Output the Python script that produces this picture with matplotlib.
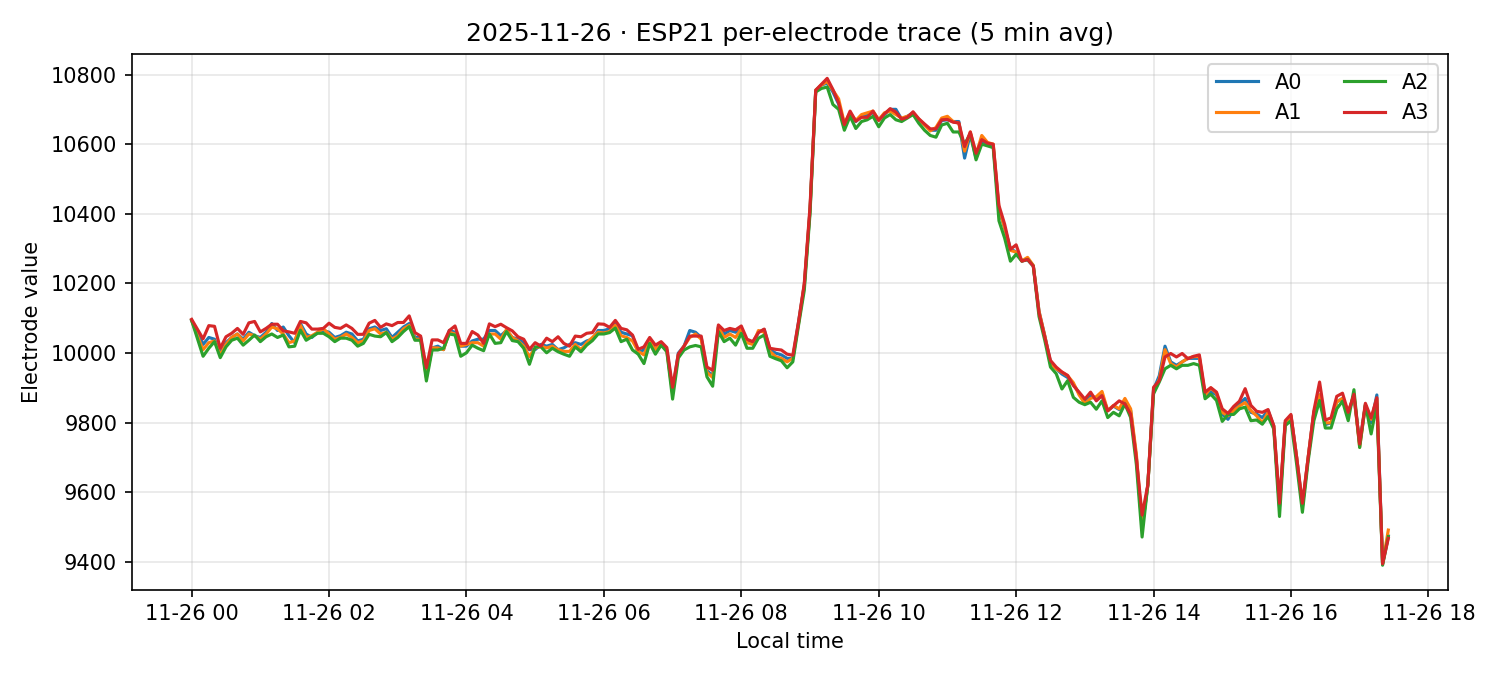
import numpy as np
import pandas as pd
import matplotlib
matplotlib.use("Agg")
import matplotlib.pyplot as plt

# 5 min averages, 00:00 -> 17:25
times = pd.date_range("2025-11-26 00:00", periods=210, freq="5min")

a0 = [
    10094, 10060, 10025, 10045, 10040, 10000, 10030, 10045, 10055, 10040,
    10060, 10050, 10045, 10060, 10085, 10065, 10075, 10050, 10030, 10085,
    10055, 10045, 10060, 10065, 10060, 10045, 10050, 10060, 10055, 10035,
    10040, 10070, 10075, 10065, 10070, 10045,
    10060, 10075, 10085, 10045, 10045, 9935, 10015, 10020, 10010, 10065,
    10060, 10020, 10020, 10035, 10040, 10040, 10065, 10065, 10050, 10065,
    10045, 10040, 10030, 10010, 10010, 10025, 10020, 10025, 10010, 10015,
    10025, 10030, 10025, 10035, 10040, 10065,
    10065, 10070, 10085, 10060, 10055, 10050, 10000, 10010, 10035, 10010,
    10030, 10010, 9890, 10000, 10020, 10065, 10060, 10045, 9950, 9935,
    10075, 10055, 10065, 10060, 10070, 10035, 10030, 10060, 10068, 10010,
    10000, 9995, 9985, 9985, 10090,
    10195, 10410, 10755, 10770, 10775, 10750, 10715, 10655, 10690, 10665,
    10680, 10685, 10690, 10670, 10685, 10700, 10700, 10672, 10680, 10690,
    10670, 10655, 10640, 10640, 10668, 10670, 10665, 10665, 10560, 10630,
    10560, 10610, 10600, 10595, 10410, 10360,
    10300, 10290, 10265, 10268, 10250, 10120, 10050, 9975, 9955, 9940,
    9930, 9910, 9885, 9860, 9880, 9868, 9880, 9835, 9848, 9838,
    9860, 9835, 9700, 9500, 9620, 9895, 9935, 10020, 9975, 9965,
    9975, 9985, 9985, 9985,
    9875, 9890, 9880, 9825, 9810, 9840, 9855, 9870, 9830, 9825,
    9815, 9835, 9790, 9560, 9800, 9820, 9700, 9560, 9700, 9830,
    9880, 9795, 9800, 9860, 9870, 9830, 9875, 9740, 9850, 9800,
    9880, 9395, 9475,
]

a1 = [
    10094, 10050, 10010, 10030, 10035, 9995, 10025, 10045, 10055, 10035,
    10055, 10050, 10040, 10055, 10075, 10070, 10055, 10030, 10035, 10080,
    10045, 10050, 10060, 10070, 10055, 10040, 10045, 10055, 10045, 10030,
    10035, 10065, 10070, 10055, 10060, 10040,
    10050, 10070, 10080, 10040, 10040, 9930, 10015, 10015, 10010, 10060,
    10055, 10020, 10025, 10030, 10030, 10020, 10055, 10055, 10040, 10068,
    10045, 10035, 10020, 9990, 10015, 10020, 10015, 10020, 10010, 10005,
    10005, 10025, 10010, 10030, 10045, 10060,
    10058, 10062, 10080, 10050, 10045, 10035, 10005, 9995, 10035, 10010,
    10030, 10005, 9885, 9995, 10020, 10045, 10055, 10040, 9945, 9930,
    10075, 10045, 10055, 10045, 10070, 10030, 10025, 10065, 10060, 10005,
    9990, 9985, 9975, 9985, 10085,
    10195, 10410, 10755, 10770, 10780, 10755, 10730, 10660, 10690, 10668,
    10685, 10690, 10695, 10670, 10690, 10695, 10685, 10675, 10680, 10688,
    10672, 10655, 10638, 10648, 10675, 10680, 10665, 10660, 10580, 10635,
    10570, 10625, 10605, 10600, 10415, 10360,
    10295, 10290, 10265, 10275, 10252, 10120, 10050, 9970, 9955, 9945,
    9935, 9915, 9880, 9855, 9870, 9875, 9890, 9835, 9850, 9840,
    9870, 9840, 9710, 9500, 9620, 9890, 9925, 10010, 9970, 9960,
    9975, 9985, 9990, 9990,
    9880, 9900, 9885, 9830, 9820, 9835, 9848, 9858, 9835, 9820,
    9800, 9830, 9790, 9560, 9800, 9820, 9700, 9560, 9700, 9830,
    9880, 9800, 9800, 9860, 9870, 9830, 9880, 9730, 9850, 9810,
    9870, 9395, 9492,
]

a2 = [
    10094, 10043, 9991, 10014, 10033, 9987, 10018, 10037, 10043, 10023,
    10037, 10052, 10033, 10047, 10055, 10045, 10052, 10018, 10020, 10066,
    10037, 10047, 10057, 10057, 10047, 10033, 10043, 10043, 10037, 10020,
    10028, 10054, 10049, 10047, 10059, 10033,
    10045, 10062, 10076, 10037, 10037, 9920, 10009, 10009, 10014, 10055,
    10052, 9991, 10001, 10023, 10014, 10007, 10055, 10028, 10030, 10062,
    10036, 10033, 10014, 9968, 10018, 10018, 10001, 10014, 10004, 9997,
    9991, 10018, 10004, 10023, 10036, 10055,
    10055, 10059, 10072, 10033, 10040, 10009, 9997, 9970, 10028, 9997,
    10023, 10004, 9868, 9986, 10009, 10018, 10022, 10018, 9932, 9905,
    10062, 10033, 10043, 10023, 10057, 10014, 10014, 10043, 10052, 9991,
    9984, 9978, 9958, 9975, 10080,
    10180, 10400, 10750, 10760, 10764, 10714, 10700, 10640, 10680, 10645,
    10665, 10670, 10680, 10650, 10675, 10685, 10670, 10665, 10675, 10685,
    10660, 10640, 10625, 10620, 10655, 10660, 10635, 10635, 10600, 10630,
    10555, 10600, 10595, 10590, 10380, 10330,
    10264, 10284, 10264, 10269, 10250, 10105, 10037, 9960, 9941, 9897,
    9921, 9873, 9859, 9852, 9859, 9839, 9863, 9815, 9830, 9820,
    9854, 9815, 9680, 9472, 9622, 9883, 9917, 9955, 9965, 9955,
    9965, 9965, 9970, 9965,
    9869, 9882, 9864, 9804, 9824, 9824, 9840, 9845, 9806, 9808,
    9796, 9818, 9782, 9531, 9792, 9806, 9680, 9543, 9690, 9806,
    9864, 9785, 9785, 9840, 9862, 9806, 9895, 9729, 9853, 9768,
    9854, 9391, 9473,
]

a3 = [
    10097, 10069, 10041, 10079, 10077, 10014, 10047, 10057, 10071, 10054,
    10087, 10091, 10061, 10071, 10083, 10083, 10064, 10061, 10057, 10091,
    10087, 10069, 10069, 10071, 10086, 10074, 10071, 10081, 10071, 10054,
    10054, 10086, 10094, 10074, 10084, 10079,
    10088, 10088, 10107, 10059, 10049, 9958, 10038, 10038, 10030, 10065,
    10078, 10028, 10028, 10062, 10052, 10028, 10084, 10076, 10083, 10073,
    10064, 10047, 10040, 10011, 10030, 10020, 10043, 10033, 10047, 10028,
    10020, 10049, 10047, 10057, 10059, 10084,
    10083, 10074, 10094, 10071, 10067, 10052, 10011, 10018, 10045, 10023,
    10033, 10016, 9902, 9997, 10020, 10049, 10049, 10049, 9960, 9951,
    10081, 10065, 10071, 10067, 10078, 10040, 10033, 10059, 10069, 10014,
    10011, 10009, 9997, 9994, 10090,
    10200, 10420, 10755, 10772, 10789, 10757, 10719, 10656, 10695, 10666,
    10677, 10677, 10695, 10668, 10687, 10702, 10692, 10672, 10677, 10693,
    10673, 10658, 10644, 10644, 10670, 10671, 10663, 10661, 10593, 10635,
    10574, 10613, 10603, 10600, 10424, 10370,
    10298, 10311, 10264, 10269, 10250, 10115, 10047, 9979, 9960, 9946,
    9936, 9907, 9888, 9868, 9888, 9863, 9878, 9834, 9849, 9863,
    9854, 9825, 9699, 9535, 9622, 9902, 9921, 9989, 9999, 9989,
    9999, 9984, 9991, 9995,
    9888, 9901, 9888, 9840, 9827, 9847, 9862, 9898, 9850, 9833,
    9830, 9838, 9792, 9569, 9806, 9824, 9700, 9569, 9700, 9835,
    9917, 9808, 9814, 9876, 9885, 9830, 9882, 9739, 9856, 9814,
    9872, 9395, 9468,
]

series = {"A0": a0, "A1": a1, "A2": a2, "A3": a3}

fig, ax = plt.subplots(figsize=(10, 4.5), dpi=150)
for name, vals in series.items():
    ax.plot(times, np.array(vals), label=name)

ax.set_title("2025-11-26 · ESP21 per-electrode trace (5 min avg)")
ax.set_xlabel("Local time")
ax.set_ylabel("Electrode value")
ax.grid(True, alpha=0.3)
ax.legend(ncol=2, loc="upper right")
fig.tight_layout()
fig.savefig("out.png")
